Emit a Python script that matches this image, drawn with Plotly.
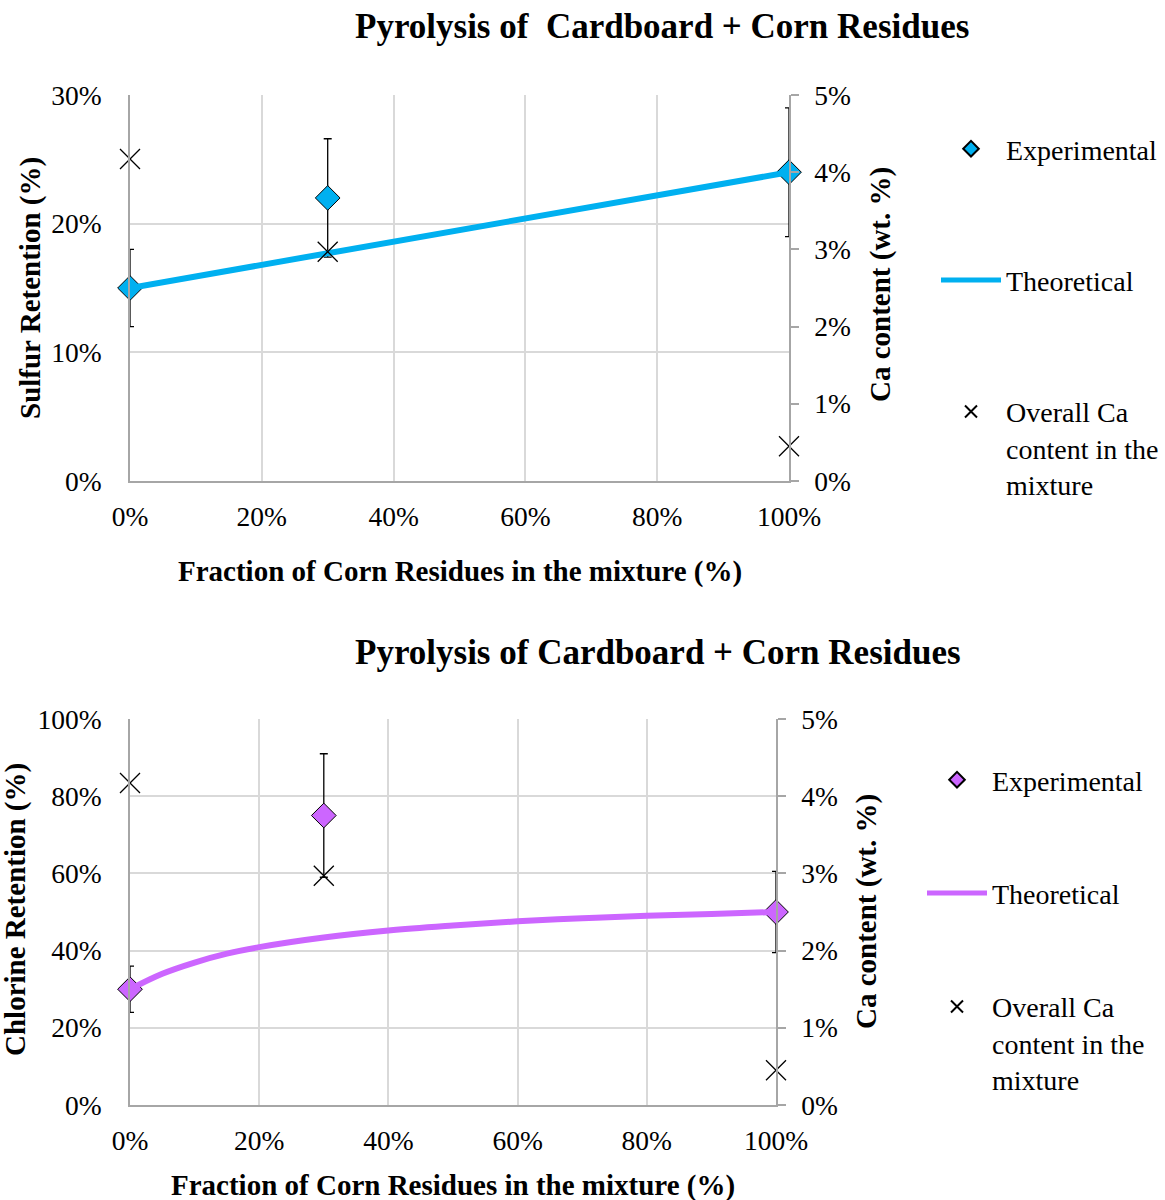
import plotly.graph_objects as go

# x positions (fraction of corn residues, %)
frac = [0, 30, 100]

# top chart: sulfur retention
s_exp = [15, 22, 24]
s_err = [3, 4.6, 5]
s_theo_x = [0, 30, 100]
s_theo = [15, 17.7, 24]

# bottom chart: chlorine retention
cl_exp = [30, 75, 50]
cl_err = [6, 16, 10.5]
cl_theo_x = [0, 5, 10, 15, 20, 30, 40, 50, 60, 70, 80, 90, 100]
cl_theo = [30, 34.0, 36.9, 39.2, 40.9, 43.4, 45.2, 46.5, 47.6, 48.4, 49.0, 49.5, 50]

# overall Ca content in the mixture (wt. %)
ca = [4.17, 2.97, 0.45]

BLUE = '#00B0F0'
PURPLE = '#CC66FF'
FONT = 'Liberation Serif'
W, H = 1165, 1200
GRID = '#D9D9D9'
AXL = '#A6A6A6'

fig = go.Figure()

# ---- top chart
fig.add_trace(go.Scatter(x=frac, y=s_exp, mode='markers', name='Experimental', cliponaxis=False,
                         marker=dict(symbol='diamond', size=19, color=BLUE,
                                     line=dict(color='black', width=1)),
                         error_y=dict(type='data', array=s_err, color='black', thickness=1.3, width=4),
                         xaxis='x', yaxis='y', legend='legend', legendgroup='a'))
fig.add_trace(go.Scatter(x=s_theo_x, y=s_theo, mode='lines', name='Theoretical', cliponaxis=False,
                         line=dict(color=BLUE, width=6),
                         xaxis='x', yaxis='y', legend='legend', legendgroup='b'))
fig.add_trace(go.Scatter(x=frac, y=ca, mode='markers', name='Overall Ca<br>content in the<br>mixture',
                         cliponaxis=False,
                         marker=dict(symbol='x-thin', size=20, line=dict(color='black', width=1.3)),
                         xaxis='x', yaxis='y2', legend='legend', legendgroup='c'))

# ---- bottom chart
fig.add_trace(go.Scatter(x=frac, y=cl_exp, mode='markers', name='Experimental', cliponaxis=False,
                         marker=dict(symbol='diamond', size=19, color=PURPLE,
                                     line=dict(color='black', width=1)),
                         error_y=dict(type='data', array=cl_err, color='black', thickness=1.3, width=4),
                         xaxis='x2', yaxis='y3', legend='legend2', legendgroup='d'))
fig.add_trace(go.Scatter(x=cl_theo_x, y=cl_theo, mode='lines', name='Theoretical', cliponaxis=False,
                         line=dict(color=PURPLE, width=6, shape='spline'),
                         xaxis='x2', yaxis='y3', legend='legend2', legendgroup='e'))
fig.add_trace(go.Scatter(x=frac, y=ca, mode='markers', name='Overall Ca<br>content in the<br>mixture',
                         cliponaxis=False,
                         marker=dict(symbol='x-thin', size=20, line=dict(color='black', width=1.3)),
                         xaxis='x2', yaxis='y4', legend='legend2', legendgroup='f'))

tickfont = dict(family=FONT, size=27.5, color='black')

def xax(dom, anchor):
    return dict(domain=dom, anchor=anchor, range=[0, 100], tick0=0, dtick=20,
                ticksuffix='%', showgrid=True, gridcolor=GRID, gridwidth=1.5, zeroline=False,
                showline=True, linecolor=AXL, linewidth=1.5, ticks='', tickfont=tickfont,
                ticklabelstandoff=10)

def yleft(dom, anchor, rng, dt):
    return dict(domain=dom, anchor=anchor, range=rng, dtick=dt, ticksuffix='%', showgrid=True,
                gridcolor=GRID, gridwidth=1.5, zeroline=False, showline=True, linecolor=AXL,
                linewidth=1.5, ticks='', tickfont=tickfont, ticklabelstandoff=21)

def yright(over, anchor):
    return dict(overlaying=over, anchor=anchor, side='right', range=[0, 5], dtick=1, ticksuffix='%',
                showgrid=False, zeroline=False, showline=True, linecolor=AXL, linewidth=1.5,
                ticks='outside', ticklen=8, tickcolor=AXL, tickwidth=1.5, tickfont=tickfont,
                ticklabelstandoff=10)

legfont = dict(family=FONT, size=28, color='black')

fig.update_layout(
    width=W, height=H, plot_bgcolor='white', paper_bgcolor='white',
    margin=dict(l=0, r=0, t=0, b=0, autoexpand=False),
    xaxis=xax([130 / W, 789 / W], 'y'),
    yaxis=yleft([1 - 481 / H, 1 - 95 / H], 'x', [0, 30], 10),
    yaxis2=yright('y', 'x'),
    xaxis2=xax([130 / W, 776 / W], 'y3'),
    yaxis3=yleft([1 - 1105 / H, 1 - 719 / H], 'x2', [0, 100], 20),
    yaxis4=yright('y3', 'x2'),
    legend=dict(x=936 / W, y=1 - 124 / H, xanchor='left', yanchor='top', font=legfont,
                tracegroupgap=92, valign='top', itemsizing='constant', itemwidth=60,
                bgcolor='rgba(0,0,0,0)'),
    legend2=dict(x=922 / W, y=1 - 755 / H, xanchor='left', yanchor='top', font=legfont,
                 tracegroupgap=74, valign='top', itemsizing='constant', itemwidth=60,
                 bgcolor='rgba(0,0,0,0)'),
    showlegend=True,
)

titlefont = dict(family=FONT, size=35, color='black')
axfont = dict(family=FONT, size=29, color='black')
ann = [
    dict(text='<b>Pyrolysis of  Cardboard + Corn Residues</b>', x=662, y=27, font=titlefont, angle=0),
    dict(text='<b>Pyrolysis of Cardboard + Corn Residues</b>', x=658, y=652, font=titlefont, angle=0),
    dict(text='<b>Fraction of Corn Residues in the mixture (%)</b>', x=460, y=571, font=axfont, angle=0),
    dict(text='<b>Fraction of Corn Residues in the mixture (%)</b>', x=453, y=1185, font=axfont, angle=0),
    dict(text='<b>Sulfur Retention (%)</b>', x=30, y=288, font=axfont, angle=-90),
    dict(text='<b>Ca content (wt. %)</b>', x=880, y=285, font=axfont, angle=-90),
    dict(text='<b>Chlorine Retention (%)</b>', x=15, y=910, font=axfont, angle=-90),
    dict(text='<b>Ca content (wt. %)</b>', x=866, y=912, font=axfont, angle=-90),
]
for a in ann:
    fig.add_annotation(text=a['text'], x=a['x'] / W, y=1 - a['y'] / H, xref='paper', yref='paper',
                       showarrow=False, font=a['font'], textangle=a['angle'],
                       xanchor='center', yanchor='middle')

fig.write_html("out.html", config={'displayModeBar': False},
               post_script="document.body.style.margin='0';")
